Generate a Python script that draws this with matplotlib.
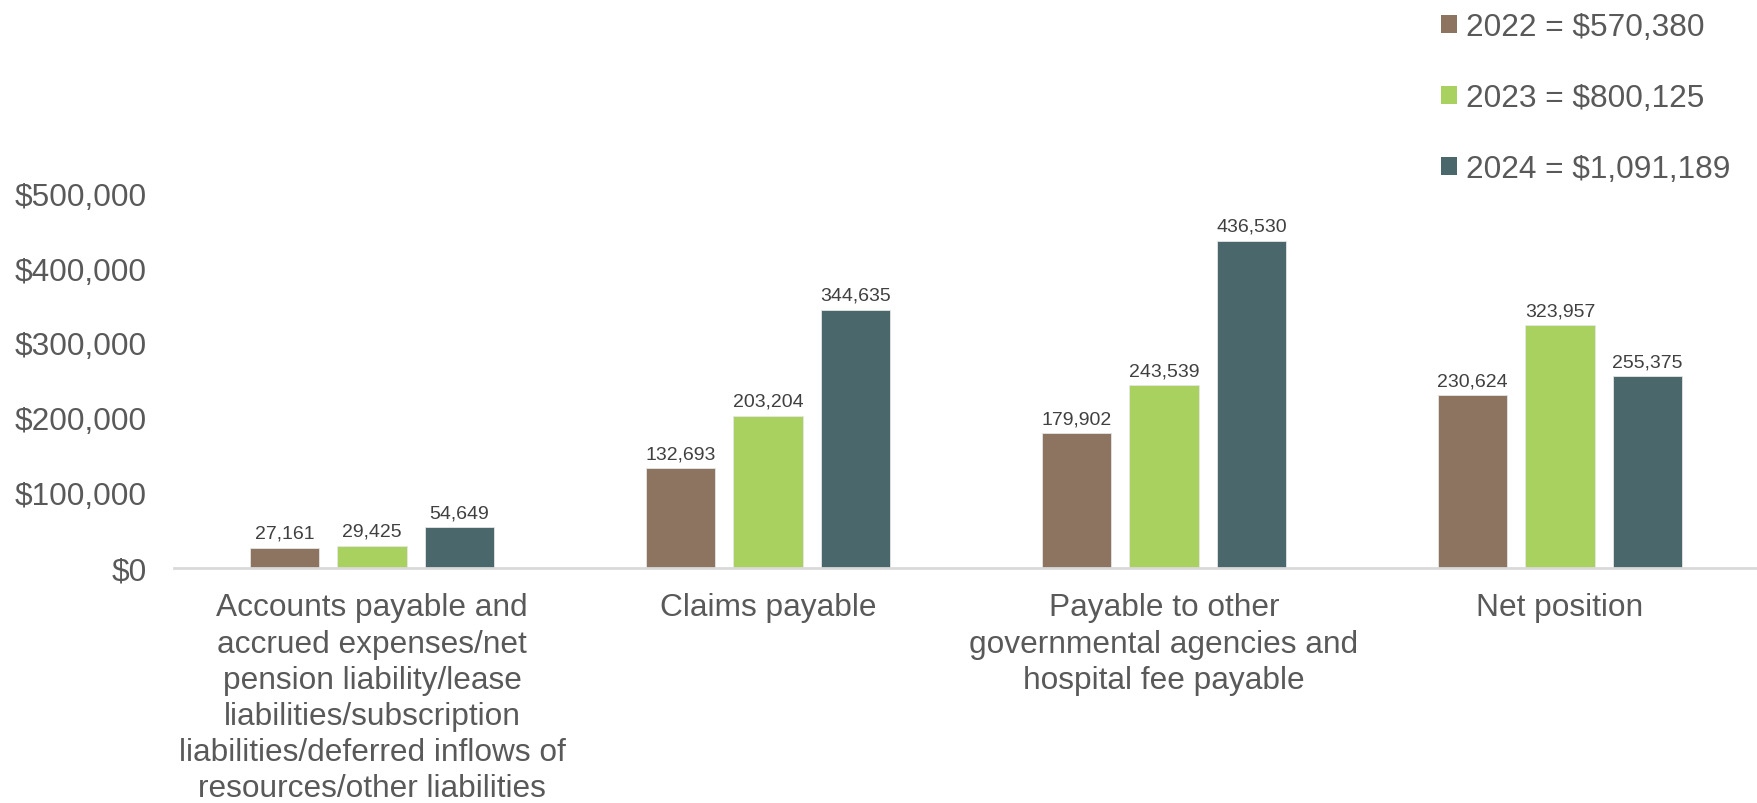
import matplotlib
matplotlib.use("Agg")
import matplotlib.pyplot as plt
import numpy as np
from matplotlib.patches import Patch
from matplotlib.ticker import FuncFormatter

plt.rcParams["font.family"] = ["Liberation Sans", "DejaVu Sans"]

categories = [
    "Accounts payable and\naccrued expenses/net\npension liability/lease\nliabilities/subscription\nliabilities/deferred inflows of\nresources/other liabilities",
    "Claims payable",
    "Payable to other\ngovernmental agencies and\nhospital fee payable",
    "Net position",
]
years = ["2022", "2023", "2024"]
totals = ["$570,380", "$800,125", "$1,091,189"]
values_2022 = [27161, 132693, 179902, 230624]
values_2023 = [29425, 203204, 243539, 323957]
values_2024 = [54649, 344635, 436530, 255375]
colors = ["#8C7460", "#A8D160", "#4A686B"]

series = [values_2022, values_2023, values_2024]

fig = plt.figure(figsize=(17.58, 8.04), dpi=100)
ax = fig.add_axes([0.099, 0.2923, 0.901, 0.4664])

x = np.arange(len(categories))
width = 0.1745
offset = 0.221

for i, vals in enumerate(series):
    pos = x + (i - 1) * offset
    bars = ax.bar(pos, vals, width, color=colors[i], edgecolor="#E6E6E6",
                  linewidth=0.6, zorder=2)
    for b, v in zip(bars, vals):
        ax.text(b.get_x() + b.get_width() / 2, v + 8000, f"{v:,}",
                ha="center", va="bottom", fontsize=14, color="#404040",
                clip_on=False)

ax.set_xlim(-0.5, len(categories) - 0.5)
ax.set_ylim(0, 500000)
ax.set_yticks(np.arange(0, 500001, 100000))
ax.yaxis.set_major_formatter(FuncFormatter(lambda v, p: f"${v:,.0f}"))
ax.set_xticks(x)
ax.set_xticklabels(categories, linespacing=1.27)

ax.tick_params(axis="y", length=0, pad=19.5, labelsize=22.8, labelcolor="#595959")
ax.tick_params(axis="x", length=0, pad=17.5, labelsize=22.8, labelcolor="#595959")

for s in ["top", "right", "left"]:
    ax.spines[s].set_visible(False)
ax.spines["bottom"].set_color("#D9D9D9")
ax.spines["bottom"].set_linewidth(2)

handles = [Patch(facecolor=c, edgecolor="none") for c in colors]
labels = [f"{y} = {t}" for y, t in zip(years, totals)]
fig.legend(handles, labels, loc="upper left", bbox_to_anchor=(0.8197, 0.984),
           frameon=False, fontsize=22.8, labelcolor="#595959",
           handlelength=0.5, handleheight=0.5, handletextpad=0.3,
           labelspacing=1.3, borderpad=0, borderaxespad=0)

fig.savefig("out.png", dpi=100)
